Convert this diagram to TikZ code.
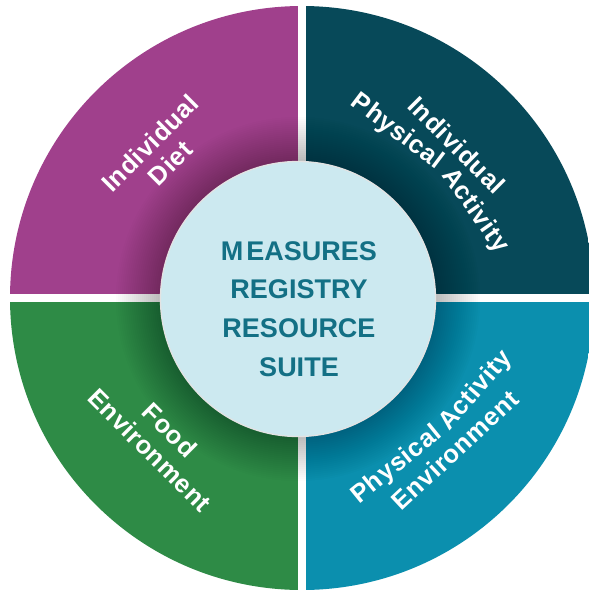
\documentclass[tikz,border=0pt]{standalone}
\usepackage{fontspec}
\setmainfont{Liberation Sans}
\newfontfamily\spacedfont[LetterSpace=2.5]{Liberation Sans}
\definecolor{cpurple}{RGB}{160,64,140}
\definecolor{cdteal}{RGB}{7,73,89}
\definecolor{cgreen}{RGB}{46,139,70}
\definecolor{cteal}{RGB}{11,143,174}
\definecolor{cinner}{RGB}{204,233,240}
\definecolor{ctext}{RGB}{19,112,133}
\begin{document}
\begin{tikzpicture}[x=1pt,y=-1pt,
  lab/.style={text=white, font=\spacedfont\bfseries\fontsize{25.5}{28.5}\selectfont, align=center, inner sep=0pt},
  ctr/.style={text=ctext, font=\bfseries\fontsize{27}{38.7}\selectfont, align=center, inner sep=0pt},
  hubstyle/.style={circle, minimum size=275pt, inner sep=0pt, fill=cinner, draw=gray!22, line width=1.3pt}]
\useasboundingbox (0,0) rectangle (589,590);
\fill[white] (0,0) rectangle (589,590);
\begin{scope}
  \clip (302,298) circle (292pt);
  \fill[cpurple] (0,0) rectangle (298,294);
  \fill[cdteal] (306,0) rectangle (600,294);
  \fill[cgreen] (0,302) rectangle (298,600);
  \fill[cteal] (306,302) rectangle (600,600);
\end{scope}
\foreach \i [evaluate=\i as \r using 138+2*\i] in {0,...,22}{
  \fill[black, opacity=0.011] (298,299) circle (\r pt);
}
\node[hubstyle] (hub) at (298,299) {};
\node[ctr] (hubtext) at (299,309) {M\kern3pt EASURES\\REGISTRY\\RESOURCE\\SUITE};
% top-left
\node[lab, rotate=45] (diet) at (160,153) {Individual\\Diet};
% top-right
\node[lab, rotate=-45] (indiv) at (457,145) {Individual};
\node[lab, rotate=-37] (phys1) at (397,132) {Physical};
\node[lab, rotate=-55] (act1) at (475,211) {Activity};
% bottom-left
\node[lab, rotate=-45] (food) at (160,440) {Food\\Environment};
% bottom-right
\node[lab, rotate=39] (phys2) at (397,465) {Physical};
\node[lab, rotate=49] (act2) at (476,391) {Activity};
\node[lab, rotate=43] (env2) at (455,450) {Environment};
\end{tikzpicture}
\end{document}
